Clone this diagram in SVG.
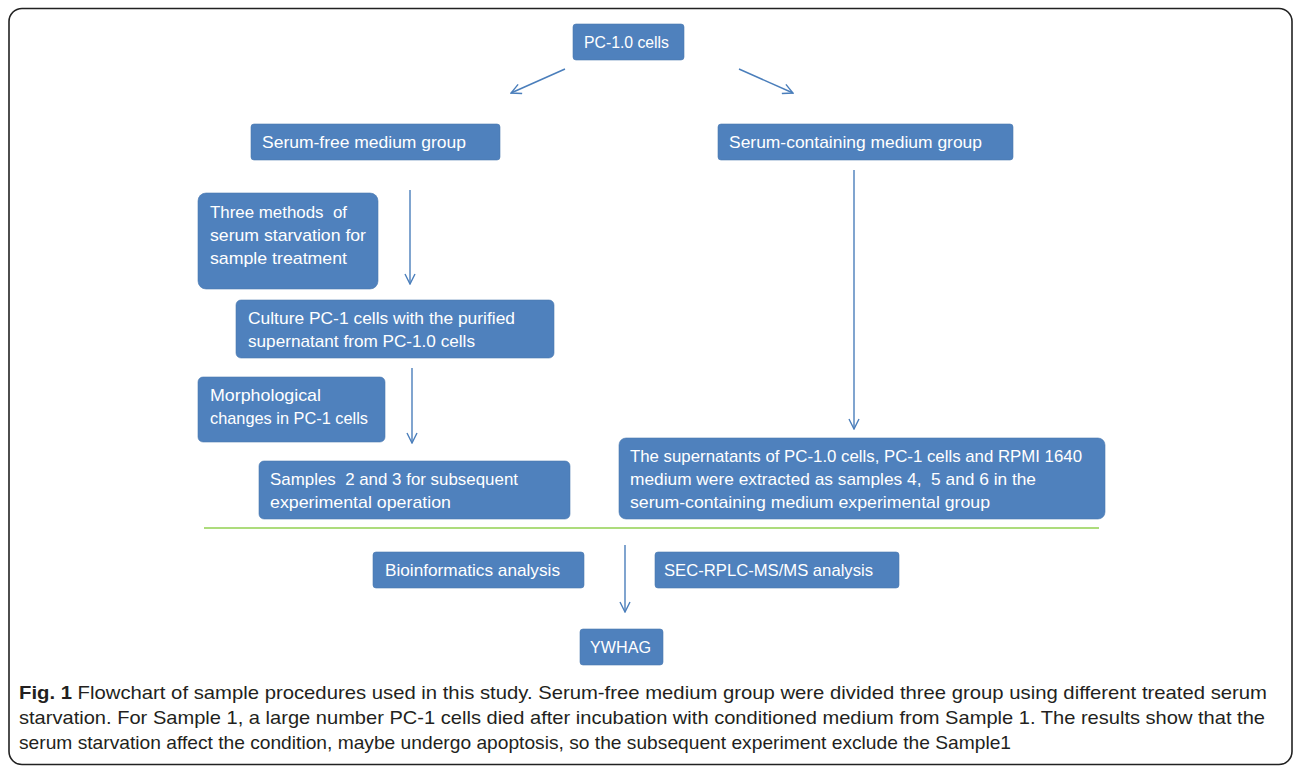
<svg xmlns="http://www.w3.org/2000/svg" width="1293" height="766" viewBox="0 0 1293 766">
<defs>
<style>
.box{fill:#4f81bd;stroke:#4a78b0;stroke-width:0.6}
.t{font-family:"Liberation Sans",Arial,sans-serif;font-size:17px;fill:#ffffff;white-space:pre}
.c{font-family:"Liberation Sans",Arial,sans-serif;font-size:19px;fill:#231f20;white-space:pre}
.arr{stroke:#4a7ebb;stroke-width:1.4;fill:none;marker-end:url(#ah)}
</style>
<marker id="ah" viewBox="0 0 12 12" refX="11" refY="6" markerWidth="12" markerHeight="12" markerUnits="userSpaceOnUse" orient="auto">
<path d="M1,1 L11,6 L1,11" fill="none" stroke="#4a7ebb" stroke-width="1.4"/>
</marker>
</defs>
<rect width="1293" height="766" fill="#ffffff"/>
<rect x="9" y="8.5" width="1283" height="756" rx="13" fill="none" stroke="#222" stroke-width="1.6"/>

<g id="connectors">
<line class="arr" x1="565" y1="69" x2="511" y2="93"/>
<line class="arr" x1="739" y1="69" x2="793" y2="93"/>
<line class="arr" x1="410" y1="190" x2="410" y2="284"/>
<line class="arr" x1="412" y1="368" x2="412" y2="443"/>
<line class="arr" x1="854" y1="170" x2="854" y2="429"/>
<line class="arr" x1="625" y1="545" x2="625" y2="612"/>
<line x1="204" y1="528" x2="1099" y2="528" stroke="#92d050" stroke-width="1.6"/>
</g>

<g id="n-pc10">
<rect class="box" x="573" y="24" width="111" height="36" rx="3"/>
<text class="t" x="584" y="48" textLength="85" lengthAdjust="spacingAndGlyphs">PC-1.0 cells</text>
</g>
<g id="n-serumfree">
<rect class="box" x="251" y="124" width="249" height="36" rx="3"/>
<text class="t" x="262" y="148" textLength="204" lengthAdjust="spacingAndGlyphs">Serum-free medium group</text>
</g>
<g id="n-serumcont">
<rect class="box" x="718" y="124" width="295" height="36" rx="3"/>
<text class="t" x="729" y="148" textLength="253" lengthAdjust="spacingAndGlyphs">Serum-containing medium group</text>
</g>
<g id="n-three">
<rect class="box" x="198" y="193" width="180" height="96" rx="8"/>
<text class="t" x="210" y="218" textLength="137" lengthAdjust="spacingAndGlyphs">Three methods  of</text>
<text class="t" x="210" y="241" textLength="156" lengthAdjust="spacingAndGlyphs">serum starvation for</text>
<text class="t" x="210" y="264" textLength="137" lengthAdjust="spacingAndGlyphs">sample treatment</text>
</g>
<g id="n-culture">
<rect class="box" x="236" y="300" width="318" height="58" rx="5"/>
<text class="t" x="248" y="324" textLength="267" lengthAdjust="spacingAndGlyphs">Culture PC-1 cells with the purified</text>
<text class="t" x="248" y="347" textLength="227" lengthAdjust="spacingAndGlyphs">supernatant from PC-1.0 cells</text>
</g>
<g id="n-morph">
<rect class="box" x="198" y="377" width="187" height="65" rx="5"/>
<text class="t" x="210" y="401" textLength="111" lengthAdjust="spacingAndGlyphs">Morphological</text>
<text class="t" x="210" y="424" textLength="158" lengthAdjust="spacingAndGlyphs">changes in PC-1 cells</text>
</g>
<g id="n-samples23">
<rect class="box" x="259" y="461" width="311" height="58" rx="5"/>
<text class="t" x="270" y="485" textLength="248" lengthAdjust="spacingAndGlyphs">Samples  2 and 3 for subsequent</text>
<text class="t" x="270" y="508" textLength="181" lengthAdjust="spacingAndGlyphs">experimental operation</text>
</g>
<g id="n-supernatants">
<rect class="box" x="619" y="438" width="486" height="81" rx="7"/>
<text class="t" x="630" y="462" textLength="452" lengthAdjust="spacingAndGlyphs">The supernatants of PC-1.0 cells, PC-1 cells and RPMI 1640</text>
<text class="t" x="630" y="485" textLength="406" lengthAdjust="spacingAndGlyphs">medium were extracted as samples 4,  5 and 6 in the</text>
<text class="t" x="630" y="508" textLength="360" lengthAdjust="spacingAndGlyphs">serum-containing medium experimental group</text>
</g>
<g id="n-bioinf">
<rect class="box" x="373" y="552" width="211" height="36" rx="3"/>
<text class="t" x="385" y="576" textLength="175" lengthAdjust="spacingAndGlyphs">Bioinformatics analysis</text>
</g>
<g id="n-sec">
<rect class="box" x="655" y="552" width="244" height="36" rx="3"/>
<text class="t" x="664" y="576" textLength="209" lengthAdjust="spacingAndGlyphs">SEC-RPLC-MS/MS analysis</text>
</g>
<g id="n-ywhag">
<rect class="box" x="580" y="629" width="83" height="36" rx="3"/>
<text class="t" x="590" y="653" textLength="61" lengthAdjust="spacingAndGlyphs">YWHAG</text>
</g>

<g id="caption">
<text class="c" x="19" y="699" textLength="1248" lengthAdjust="spacingAndGlyphs"><tspan font-weight="bold">Fig. 1</tspan> Flowchart of sample procedures used in this study. Serum-free medium group were divided three group using different treated serum</text>
<text class="c" x="19" y="724" textLength="1246" lengthAdjust="spacingAndGlyphs">starvation. For Sample 1, a large number PC-1 cells died after incubation with conditioned medium from Sample 1. The results show that the</text>
<text class="c" x="19" y="749" textLength="992" lengthAdjust="spacingAndGlyphs">serum starvation affect the condition, maybe undergo apoptosis, so the subsequent experiment exclude the Sample1</text>
</g>
</svg>
